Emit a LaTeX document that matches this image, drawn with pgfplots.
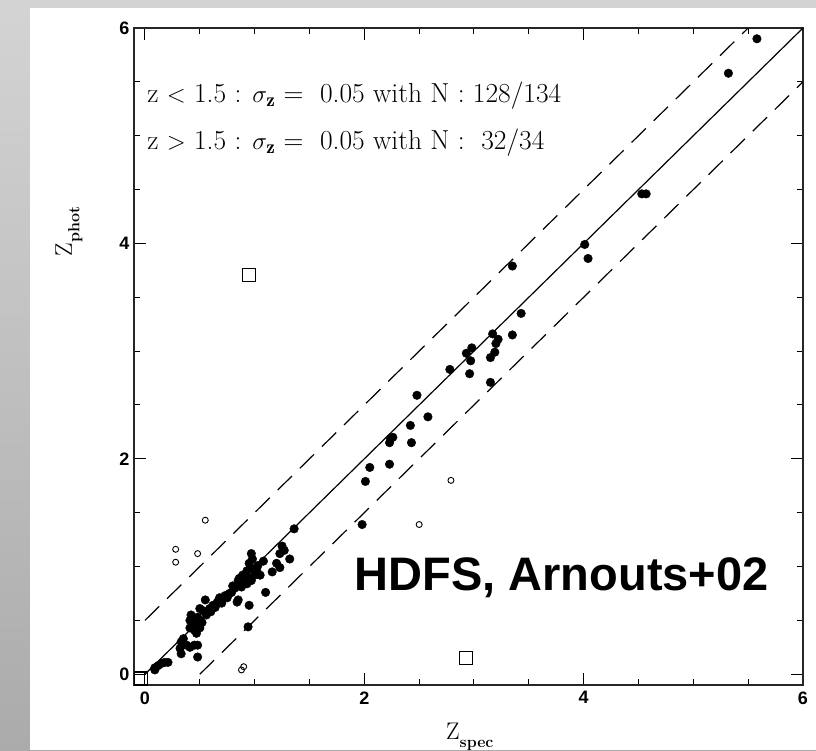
\documentclass[border=0pt]{standalone}
\usepackage{pgfplots}
\pgfplotsset{compat=1.18}
\usepackage{fontspec}
\setsansfont{Liberation Sans}
\begin{document}
\begin{tikzpicture}
\shade[top color=black!17, bottom color=black!33] (0pt,0pt) rectangle (816pt,750pt);
\fill[white] (30pt,0pt) rectangle (816pt,742pt);
\begin{axis}[
  at={(134pt,65pt)}, anchor=south west,
  scale only axis, width=669pt, height=657pt,
  xmin=-0.1, xmax=6, ymin=-0.1, ymax=6,
  xtick={0,2,4,6}, ytick={0,2,4,6},
  minor tick num=3,
  tick align=inside,
  major tick length=12pt, minor tick length=6pt,
  every tick/.style={black, line width=1pt},
  axis line style={line width=1.4pt, black!85},
  tick label style={font=\sffamily\bfseries\fontsize{18}{18}\selectfont},
  /pgf/number format/assume math mode=true,
  xticklabel style={yshift=-3pt},
  yticklabel style={xshift=-1pt},
  clip=false,
]
\addplot[black, line width=1.2pt] coordinates {(0,0) (6,6)};
\addplot[black, line width=1.2pt, dash pattern=on 20pt off 11pt] coordinates {(0,0.5) (5.5,6)};
\addplot[black, line width=1.2pt, dash pattern=on 20pt off 11pt] coordinates {(0.5,0) (6,5.5)};
% filled circles
\addplot[only marks, mark=*, mark size=4.3pt, black] coordinates {
(5.58,5.90) (5.32,5.58) (4.53,4.46) (4.57,4.46) (4.01,3.99) (4.04,3.86)
(3.35,3.79) (3.43,3.35) (3.17,3.16) (3.35,3.15) (3.22,3.11) (3.20,3.07)
(2.98,3.03) (2.93,2.98) (3.19,2.99) (3.15,2.94) (2.97,2.91) (2.78,2.83)
(2.96,2.79) (3.15,2.71) (2.48,2.59) (2.58,2.39) (2.42,2.31) (2.24,2.19)
(2.26,2.20) (2.23,2.15) (2.43,2.15) (2.23,1.95) (2.05,1.92) (2.01,1.79)
(1.98,1.39)
(1.36,1.35) (1.25,1.19) (1.27,1.15) (1.23,1.12) (1.32,1.07) (1.20,1.03)
(1.23,0.99) (1.16,0.95) (1.10,0.76) (0.97,1.12) (0.98,1.07) (0.95,1.03)
(1.03,1.01) (1.02,0.96) (1.00,0.92) (1.05,0.92) (0.94,0.90) (0.97,0.87)
(0.89,0.92) (0.93,0.84) (0.85,0.87) (0.88,0.81) (0.86,0.89) (0.93,0.96)
(0.82,0.80) (0.79,0.76) (0.77,0.75) (0.85,0.69) (0.84,0.67) (0.95,0.64)
(0.75,0.71) (0.71,0.70) (0.68,0.71) (0.66,0.67) (0.62,0.64) (0.55,0.69)
(0.59,0.61) (0.53,0.59) (0.50,0.61) (0.56,0.55) (0.48,0.53) (0.44,0.52)
(0.41,0.50) (0.43,0.45) (0.45,0.47) (0.48,0.47) (0.52,0.48) (0.41,0.43)
(0.45,0.41) (0.50,0.43) (0.47,0.38) (0.94,0.44) (0.35,0.33) (0.33,0.30)
(0.38,0.27) (0.32,0.24) (0.33,0.19) (0.41,0.25) (0.45,0.27) (0.48,0.27)
(0.48,0.16) (0.21,0.11) (0.18,0.11) (0.15,0.10) (0.12,0.08) (0.09,0.06)
(0.09,0.04) (0.45,0.50) (0.42,0.55) (0.50,0.50) (0.60,0.58) (0.64,0.62)
(0.70,0.66) (0.73,0.73) (0.80,0.82) (0.90,0.85) (0.98,0.98) (1.08,1.05)
};
% open circles
\addplot[only marks, mark=o, mark size=3pt, black, line width=0.9pt] coordinates {
(0.55,1.43) (0.28,1.16) (0.28,1.04) (0.48,1.12) (0.90,0.07) (0.88,0.04)
(2.50,1.39) (2.79,1.80)
};
% open squares
\addplot[only marks, mark=square, mark size=6.5pt, black, line width=1.1pt] coordinates {
(0.95,3.71) (2.93,0.15) (-0.04,-0.04)
};
\node[anchor=base west, inner sep=0pt, font=\fontsize{27.5}{27.5}\selectfont] at (axis cs:0.02,5.31)
  {z $<$ 1.5 : $\sigma_{\mathbf{z}}$ =\ \ 0.05 with N : 128/134};
\node[anchor=base west, inner sep=0pt, font=\fontsize{27.5}{27.5}\selectfont] at (axis cs:0.02,4.87)
  {z $>$ 1.5 : $\sigma_{\mathbf{z}}$ =\ \ 0.05 with N :\ \ 32/34};
\node[anchor=base west, inner sep=0pt, font=\sffamily\bfseries\fontsize{47}{47}\selectfont] at (axis cs:1.91,0.78)
  {HDFS, Arnouts+02};
\node[anchor=base, inner sep=0pt, font=\fontsize{24}{24}\selectfont] at (axis description cs:0.502,-0.083)
  {Z\raisebox{-0.32em}{\fontsize{16}{16}\selectfont\bfseries spec}};
\node[anchor=base, rotate=90, inner sep=0pt, font=\fontsize{24}{24}\selectfont] at (axis description cs:-0.093,0.69)
  {Z\raisebox{-0.32em}{\fontsize{16}{16}\selectfont\bfseries phot}};
\end{axis}
\end{tikzpicture}
\end{document}
